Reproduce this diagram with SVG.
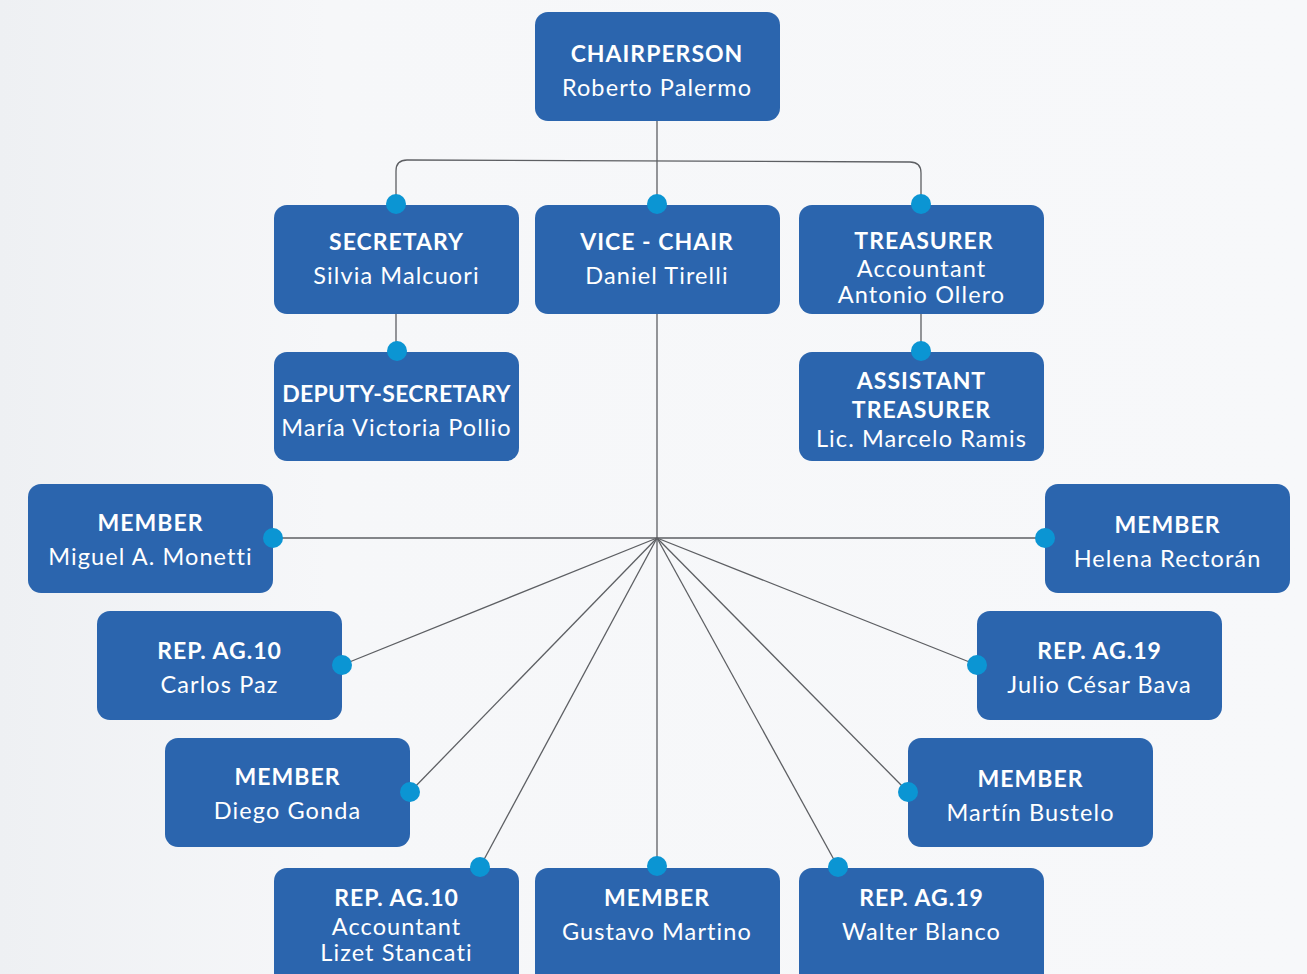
<svg xmlns="http://www.w3.org/2000/svg" width="1307" height="974" viewBox="0 0 1307 974">
  <defs>
    <linearGradient id="bg" x1="0" y1="0" x2="1" y2="0">
      <stop offset="0" stop-color="#eef0f3"/>
      <stop offset="0.25" stop-color="#f6f7f9"/>
      <stop offset="1" stop-color="#f7f8fa"/>
    </linearGradient>
  </defs>
  <style>
    .box { fill: #2b65ae; }
    .dot { fill: #0b95d3; }
    .link { fill: none; stroke: #5d5f63; stroke-width: 1.3; }
    .t { font-family: "Lato", "Liberation Sans", sans-serif; fill: #ffffff; text-anchor: middle; }
    .h { font-weight: 700; font-size: 23px; letter-spacing: 1px; }
    .n { font-weight: 400; font-size: 23.5px; letter-spacing: 1.1px; }
  </style>

  <rect x="0" y="0" width="1307" height="974" fill="url(#bg)"/>

  <!-- connectors -->
  <g id="connectors">
    <path class="link" d="M657 121 V866"/>
    <path class="link" d="M396 204 V171 Q396 160 407 160 L910 162 Q921 162 921 173 V204"/>
    <path class="link" d="M396 314 V351"/>
    <path class="link" d="M921 314 V351"/>
    <path class="link" d="M273 538 H1045"/>
    <path class="link" d="M657 538 L342 665"/>
    <path class="link" d="M657 538 L977 665"/>
    <path class="link" d="M657 538 L410 792"/>
    <path class="link" d="M657 538 L908 792"/>
    <path class="link" d="M657 538 L480 867"/>
    <path class="link" d="M657 538 L838 867"/>
  </g>

  <g id="chairperson">
    <rect class="box" x="535" y="12" width="245" height="109" rx="13"/>
    <text class="t h" x="657" y="62">CHAIRPERSON</text>
    <text class="t n" x="657" y="96">Roberto Palermo</text>
  </g>

  <g id="secretary">
    <rect class="box" x="274" y="205" width="245" height="109" rx="13"/>
    <circle class="dot" cx="396" cy="204" r="10"/>
    <text class="t h" x="396.5" y="250">SECRETARY</text>
    <text class="t n" x="396.5" y="284">Silvia Malcuori</text>
  </g>

  <g id="vice-chair">
    <rect class="box" x="535" y="205" width="245" height="109" rx="13"/>
    <circle class="dot" cx="657" cy="204" r="10"/>
    <text class="t h" x="657" y="250">VICE - CHAIR</text>
    <text class="t n" x="657" y="284">Daniel Tirelli</text>
  </g>

  <g id="treasurer">
    <rect class="box" x="799" y="205" width="245" height="109" rx="13"/>
    <circle class="dot" cx="921" cy="204" r="10"/>
    <text class="t h" x="924" y="249">TREASURER</text>
    <text class="t n" x="921.5" y="277">Accountant</text>
    <text class="t n" x="921.5" y="303">Antonio Ollero</text>
  </g>

  <g id="deputy-secretary">
    <rect class="box" x="274" y="352" width="245" height="109" rx="13"/>
    <circle class="dot" cx="397" cy="351" r="10"/>
    <text class="t h" x="396.5" y="402" style="letter-spacing:0.3px">DEPUTY-SECRETARY</text>
    <text class="t n" x="396.5" y="436">María Victoria Pollio</text>
  </g>

  <g id="assistant-treasurer">
    <rect class="box" x="799" y="352" width="245" height="109" rx="13"/>
    <circle class="dot" cx="921" cy="351" r="10"/>
    <text class="t h" x="921.5" y="389">ASSISTANT</text>
    <text class="t h" x="921.5" y="418">TREASURER</text>
    <text class="t n" x="921.5" y="447">Lic. Marcelo Ramis</text>
  </g>

  <g id="member-monetti">
    <rect class="box" x="28" y="484" width="245" height="109" rx="13"/>
    <circle class="dot" cx="273" cy="538" r="10"/>
    <text class="t h" x="150.5" y="531">MEMBER</text>
    <text class="t n" x="150.5" y="565">Miguel A. Monetti</text>
  </g>

  <g id="member-rectoran">
    <rect class="box" x="1045" y="484" width="245" height="109" rx="13"/>
    <circle class="dot" cx="1045" cy="538" r="10"/>
    <text class="t h" x="1167.5" y="533">MEMBER</text>
    <text class="t n" x="1167.5" y="567">Helena Rectorán</text>
  </g>

  <g id="rep-ag10-paz">
    <rect class="box" x="97" y="611" width="245" height="109" rx="13"/>
    <circle class="dot" cx="342" cy="665" r="10"/>
    <text class="t h" x="219.5" y="659">REP. AG.10</text>
    <text class="t n" x="219.5" y="693">Carlos Paz</text>
  </g>

  <g id="rep-ag19-bava">
    <rect class="box" x="977" y="611" width="245" height="109" rx="13"/>
    <circle class="dot" cx="977" cy="665" r="10"/>
    <text class="t h" x="1099.5" y="659">REP. AG.19</text>
    <text class="t n" x="1099.5" y="693">Julio César Bava</text>
  </g>

  <g id="member-gonda">
    <rect class="box" x="165" y="738" width="245" height="109" rx="13"/>
    <circle class="dot" cx="410" cy="792" r="10"/>
    <text class="t h" x="287.5" y="785">MEMBER</text>
    <text class="t n" x="287.5" y="819">Diego Gonda</text>
  </g>

  <g id="member-bustelo">
    <rect class="box" x="908" y="738" width="245" height="109" rx="13"/>
    <circle class="dot" cx="908" cy="792" r="10"/>
    <text class="t h" x="1030.5" y="787">MEMBER</text>
    <text class="t n" x="1030.5" y="821">Martín Bustelo</text>
  </g>

  <g id="rep-ag10-stancati">
    <rect class="box" x="274" y="868" width="245" height="120" rx="13"/>
    <circle class="dot" cx="480" cy="867" r="10"/>
    <text class="t h" x="396.5" y="906">REP. AG.10</text>
    <text class="t n" x="396.5" y="935">Accountant</text>
    <text class="t n" x="396.5" y="961">Lizet Stancati</text>
  </g>

  <g id="member-martino">
    <rect class="box" x="535" y="868" width="245" height="120" rx="13"/>
    <circle class="dot" cx="657" cy="866" r="10"/>
    <text class="t h" x="657" y="906">MEMBER</text>
    <text class="t n" x="657" y="940">Gustavo Martino</text>
  </g>

  <g id="rep-ag19-blanco">
    <rect class="box" x="799" y="868" width="245" height="120" rx="13"/>
    <circle class="dot" cx="838" cy="867" r="10"/>
    <text class="t h" x="921.5" y="906">REP. AG.19</text>
    <text class="t n" x="921.5" y="940">Walter Blanco</text>
  </g>
</svg>
